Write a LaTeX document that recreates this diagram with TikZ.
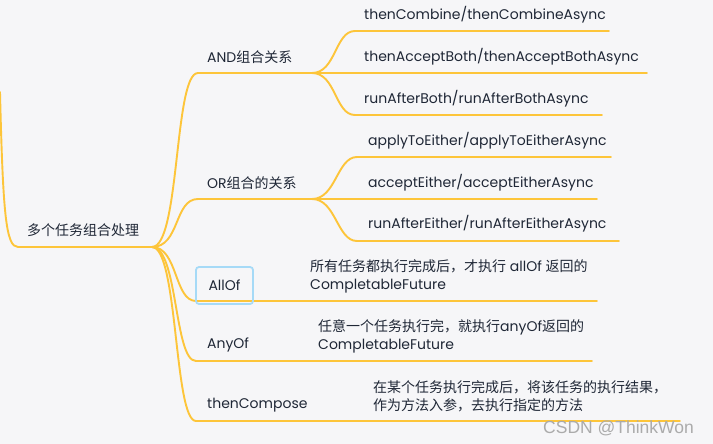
\documentclass[tikz,border=0pt]{standalone}
\usepackage{fontspec}
\setmainfont{Poppins}
\newfontfamily\zhfont{Noto Sans CJK SC}
\newfontfamily\wmfont{Liberation Sans}
\newcommand\Z[1]{{\zhfont #1}}
\definecolor{bgC}{HTML}{F6F6F8}
\definecolor{lineC}{HTML}{FDC53A}
\definecolor{txtC}{HTML}{1F2736}
\definecolor{boxC}{HTML}{A6DAF7}
\definecolor{wmC}{HTML}{ABABAB}
\begin{document}
\begin{tikzpicture}[x=1pt,y=-1pt,
  branch/.style={draw=lineC, line width=1.9pt, line cap=round},
  lbl/.style={anchor=west, inner sep=0pt, text=txtC, font=\fontsize{14}{16}\selectfont},
  desc/.style={anchor=west, inner sep=0pt, text=txtC, align=left, font=\fontsize{14}{18}\selectfont},
  selbox/.style={draw=boxC, line width=1.8pt, rounded corners=3pt, minimum width=57pt, minimum height=37pt, inner sep=0pt, text=txtC, font=\fontsize{14}{16}\selectfont}]
\fill[bgC] (0,0) rectangle (713,444);
\useasboundingbox (0,0) rectangle (713,444);

% junction coordinates
\coordinate (in0) at (0,92);
\coordinate (rootL) at (18,247);
\coordinate (rootJ) at (152,247);
\coordinate (andL) at (198,73);
\coordinate (andJ) at (312,73);
\coordinate (orL) at (198,199);
\coordinate (orJ) at (312,199);
\coordinate (allL) at (196,301);
\coordinate (allE) at (597,301);
\coordinate (anyL) at (196,361);
\coordinate (anyE) at (592,361);
\coordinate (compL) at (196,421);
\coordinate (compE) at (680,421);
\coordinate (c1L) at (355,31);
\coordinate (c1E) at (609,31);
\coordinate (c2E) at (647,73);
\coordinate (c3L) at (355,115);
\coordinate (c3E) at (602,115);
\coordinate (o1L) at (357,157);
\coordinate (o1E) at (611,157);
\coordinate (o2E) at (597,199);
\coordinate (o3L) at (357,241);
\coordinate (o3E) at (619,241);

% connectors
\draw[branch] (in0) .. controls (3,215) and (6,247) .. (rootL) -- (rootJ);
\draw[branch] (rootJ) .. controls +(28,0) and +(-24,0) .. (andL) -- (andJ);
\draw[branch] (rootJ) .. controls +(28,0) and +(-24,0) .. (orL) -- (orJ);
\draw[branch] (rootJ) .. controls +(26,0) and +(-22,0) .. (allL) -- (allE);
\draw[branch] (rootJ) .. controls +(26,0) and +(-22,0) .. (anyL) -- (anyE);
\draw[branch] (rootJ) .. controls +(26,0) and +(-22,0) .. (compL) -- (compE);
\draw[branch] (andJ) .. controls +(24,0) and +(-20,0) .. (c1L) -- (c1E);
\draw[branch] (andJ) -- (c2E);
\draw[branch] (andJ) .. controls +(24,0) and +(-20,0) .. (c3L) -- (c3E);
\draw[branch] (orJ) .. controls +(24,0) and +(-20,0) .. (o1L) -- (o1E);
\draw[branch] (orJ) -- (o2E);
\draw[branch] (orJ) .. controls +(24,0) and +(-20,0) .. (o3L) -- (o3E);

% labels
\node[lbl] (root) at (27,230) {\Z{多个任务组合处理}};
\node[lbl] (and) at (207,57) {AND\Z{组合关系}};
\node[lbl] (or) at (207,183) {OR\Z{组合的关系}};
\node[selbox] (allof) at (224.5,285.5) {AllOf};
\node[lbl] (anyof) at (207,345) {AnyOf};
\node[lbl] (compose) at (207,405) {thenCompose};

\node[lbl] (c1) at (364,15) {thenCombine/thenCombineAsync};
\node[lbl] (c2) at (364,57) {thenAcceptBoth/thenAcceptBothAsync};
\node[lbl] (c3) at (364,99) {runAfterBoth/runAfterBothAsync};
\node[lbl] (o1) at (368,141) {applyToEither/applyToEitherAsync};
\node[lbl] (o2) at (368,183) {acceptEither/acceptEitherAsync};
\node[lbl] (o3) at (368,224) {runAfterEither/runAfterEitherAsync};

\node[desc] (alld) at (310,276) {\Z{所有任务都执行完成后，才执行} allOf \Z{返回的}\\CompletableFuture};
\node[desc] (anyd) at (318,336) {\Z{任意一个任务执行完，就执行}anyOf\Z{返回的}\\CompletableFuture};
\node[desc] (compd) at (373,396) {\Z{在某个任务执行完成后，将该任务的执行结果，}\\\Z{作为方法入参，去执行指定的方法}};

\node[anchor=west, inner sep=0pt, text=wmC, font=\wmfont\fontsize{17.5}{20}\selectfont] (wm) at (543,428) {CSDN @ThinkWon};
\end{tikzpicture}
\end{document}
